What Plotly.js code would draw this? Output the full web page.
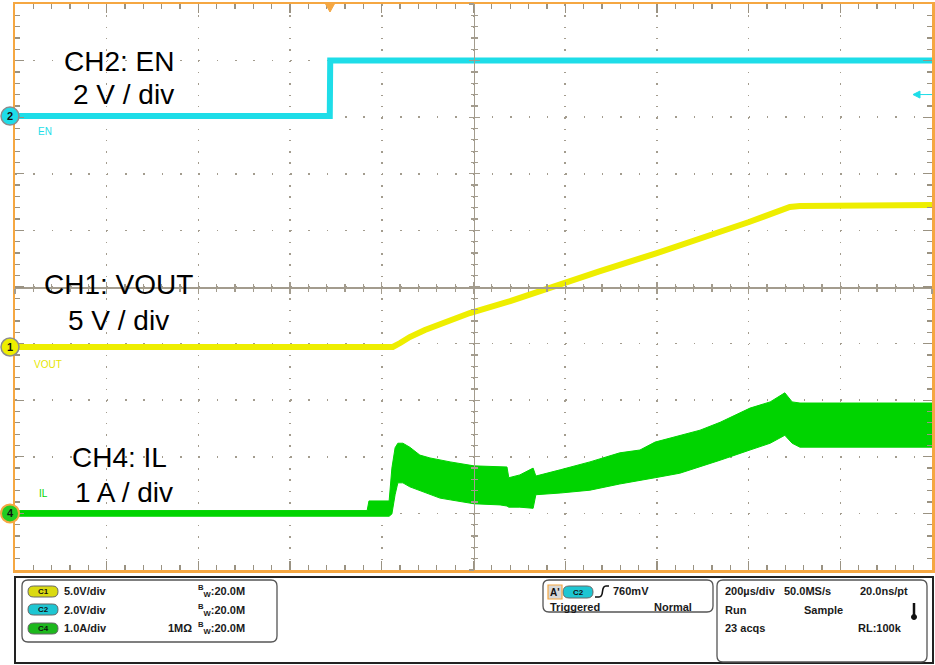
<!DOCTYPE html>
<html><head><meta charset="utf-8">
<script src="https://cdn.plot.ly/plotly-3.0.1.min.js"></script>
<style>html,body{margin:0;padding:0;background:#fff;}#chart{width:935px;height:665px;}</style>
</head><body><div id="chart"></div>
<script>
// ---- data (time in µs relative to trigger) ----
const enTime  = [-687, -0.5, 0.5, 1313];
const enVolts = [0, 0, 1.96, 1.96];

const voutTime  = [-687, 137, 153, 174, 207, 240, 305, 393, 458, 589, 713, 807, 914, 1003, 1025, 1313];
const voutVolts = [0, 0, 0.35, 0.88, 1.50, 2.03, 3.00, 4.06, 4.95, 6.71, 8.30, 9.54, 11.04, 12.37, 12.46, 12.54];

const ilTime  = [-687, 81, 85, 129, 135, 142, 148, 159, 174, 196, 218, 240, 262, 314, 371, 386, 390, 414, 443, 449, 502, 567, 632, 676, 709, 763, 807, 851, 916, 960, 992, 1008, 1025, 1313];
const ilUpper = [0.05, 0.05, 0.22, 0.22, 0.80, 1.16, 1.24, 1.24, 1.17, 1.03, 0.98, 0.94, 0.91, 0.84, 0.82, 0.82, 0.63, 0.68, 0.80, 0.66, 0.77, 0.91, 1.07, 1.12, 1.26, 1.38, 1.47, 1.61, 1.86, 1.97, 2.13, 1.97, 1.95, 1.95];
const ilLower = [-0.05, -0.05, -0.05, -0.05, -0.01, 0.33, 0.54, 0.54, 0.47, 0.40, 0.33, 0.27, 0.24, 0.17, 0.15, 0.13, 0.11, 0.11, 0.09, 0.33, 0.36, 0.41, 0.52, 0.59, 0.63, 0.71, 0.82, 0.94, 1.12, 1.24, 1.38, 1.24, 1.17, 1.17];

const triggerLevel = 0.76; // V on EN
const channelLabels = ["CH2: EN", "2 V / div", "CH1: VOUT", "5 V / div", "CH4: IL", "1 A / div"];

// ---- styling ----
const ORANGE = "#F5A742", GRID = "#A39C8E", TICK = "#9A9282";
const CYAN = "#1EDDE8", YELLOW = "#EEEE00", GREEN = "#00D400";
const T0 = -687, T1 = 1313, TDIV = 200;

function chRange(perDiv, offDiv){ return [-offDiv*perDiv, (10-offDiv)*perDiv]; }

function emptyOn(xa, ya){ return {x:[], y:[], xaxis:xa, yaxis:ya, mode:'lines', hoverinfo:'skip', showlegend:false}; }

const traces = [
  emptyOn('x','y'),
  emptyOn('x2','y'), emptyOn('x3','y'), emptyOn('x','y5'), emptyOn('x','y6'),
  {x: ilTime, y: ilLower, xaxis:'x', yaxis:'y4', mode:'lines', line:{color:GREEN, width:1}, hoverinfo:'skip'},
  {x: ilTime, y: ilUpper, xaxis:'x', yaxis:'y4', mode:'lines', line:{color:GREEN, width:1}, fill:'tonexty', fillcolor:GREEN, hoverinfo:'skip'},
  {x: voutTime, y: voutVolts, xaxis:'x', yaxis:'y2', mode:'lines', line:{color:YELLOW, width:6}, hoverinfo:'skip'},
  {x: enTime, y: enVolts, xaxis:'x', yaxis:'y3', mode:'lines', line:{color:CYAN, width:6}, hoverinfo:'skip'}
];

const xBase = {range:[T0,T1], showticklabels:false, zeroline:false, fixedrange:true, tick0:T0, dtick:TDIV};
const yBase = {range:[0,10], showticklabels:false, zeroline:false, fixedrange:true, tick0:0, dtick:1};

function crossAxis(base, dir, extra){
  return Object.assign({}, base, {showgrid:false, showline:true, linecolor:GRID, linewidth:1.5,
    ticks:dir, ticklen:5, tickwidth:1.3, tickcolor:GRID,
    minor:{ticks:dir, ticklen:3, tickwidth:1.3, tickcolor:GRID, dtick:base.dtick/5, tick0:base.tick0, showgrid:false}}, extra);
}

function rx(px){return px-15;}
function ry(py){return 4-py;}
function ax(px){return (px-15)/917;}
function ay(py){return (570-py)/566;}
function roundPath(x0,y0,x1,y1,r){
  const a=rx(x0), b=rx(x1), t=ry(y0), u=ry(y1);
  return `M${a+r},${t} L${b-r},${t} Q${b},${t} ${b},${t-r} L${b},${u+r} Q${b},${u} ${b-r},${u} L${a+r},${u} Q${a},${u} ${a},${u+r} L${a},${t-r} Q${a},${t} ${a+r},${t} Z`;
}
function pxShape(path, fill, lineColor, lineWidth){
  return {type:'path', xref:'paper', yref:'paper', xsizemode:'pixel', ysizemode:'pixel', xanchor:0, yanchor:1,
    path, fillcolor:fill, line:{color:lineColor, width:lineWidth}, layer:'above'};
}

const shapes = [];
function marker(yref, fill, edge, ew){
  shapes.push({type:'circle', xref:'paper', yref:yref, xsizemode:'pixel', ysizemode:'pixel', xanchor:0, yanchor:0,
    x0:-14, x1:4, y0:-9, y1:9, fillcolor:fill, line:{color:edge, width:ew}, layer:'above'});
}
marker('y3', CYAN, '#8C8C8C', 1.5);
marker('y2', YELLOW, '#8C8C8C', 1.5);
marker('y4', '#22CC22', ORANGE, 2);
shapes.push({type:'path', xref:'x', yref:'paper', xsizemode:'pixel', ysizemode:'pixel', xanchor:0, yanchor:1,
  path:'M-5,1 L5,1 L0,-8 Z', fillcolor:ORANGE, line:{color:ORANGE, width:1}, layer:'above'});
shapes.push({type:'path', xref:'paper', yref:'y3', xsizemode:'pixel', ysizemode:'pixel', xanchor:1, yanchor:triggerLevel,
  path:'M-19,0 L-12,3.5 L-12,-3.5 Z', fillcolor:CYAN, line:{color:CYAN, width:1}, layer:'above'});
shapes.push({type:'path', xref:'paper', yref:'y3', xsizemode:'pixel', ysizemode:'pixel', xanchor:1, yanchor:triggerLevel,
  path:'M-12,0 L0,0', line:{color:CYAN, width:1}, layer:'above'});

shapes.push(pxShape(`M${rx(15)},${ry(577)} L${rx(933)},${ry(577)} L${rx(933)},${ry(663)} L${rx(15)},${ry(663)} Z`, 'rgba(0,0,0,0)', '#222', 2));
shapes.push(pxShape(roundPath(22,580,277,642,6), 'rgba(0,0,0,0)', '#555', 1.3));
shapes.push(pxShape(roundPath(543,580,713,612,6), 'rgba(0,0,0,0)', '#555', 1.3));
shapes.push(pxShape(roundPath(717,580,927,662,6), 'rgba(0,0,0,0)', '#555', 1.3));
const pills = [[28,586,58,597,'#DADA10'],[28,604,58,615,'#1EC6D2'],[28,623,58,634,'#1DB81D'],[563,586,593,598,'#1EC6D2']];
pills.forEach(p=>shapes.push(pxShape(roundPath(p[0],p[1],p[2],p[3],(p[3]-p[1])/2), p[4], '#666', 1)));
shapes.push(pxShape(`M${rx(548)},${ry(585)} L${rx(562)},${ry(585)} L${rx(562)},${ry(599)} L${rx(548)},${ry(599)} Z`, '#D8D8D8', ORANGE, 1.2));
shapes.push(pxShape(`M${rx(595)},${ry(597)} L${rx(599)},${ry(597)} Q${rx(602)},${ry(597)} ${rx(602.5)},${ry(591.5)} Q${rx(603)},${ry(586)} ${rx(606)},${ry(586)} L${rx(609)},${ry(586)}`, 'rgba(0,0,0,0)', '#111', 1.6));
shapes.push(pxShape(`M${rx(914)},${ry(603)} L${rx(914)},${ry(616)}`, 'rgba(0,0,0,0)', '#111', 2.5));
shapes.push({type:'circle', xref:'paper', yref:'paper', xsizemode:'pixel', ysizemode:'pixel', xanchor:0, yanchor:1,
  x0:rx(911.5), x1:rx(916.5), y0:ry(614.5), y1:ry(619.5), fillcolor:'#111', line:{color:'#111', width:1}, layer:'above'});

const annotations = [];
function txt(text, px, py, anchor, size, color, family){
  annotations.push({text, x:ax(px), y:ay(py), xref:'paper', yref:'paper', xanchor:anchor, yanchor:'middle',
    showarrow:false, font:{size, color, family}});
}
const BIG = 'Liberation Sans, Arial, sans-serif';
txt(channelLabels[0], 118.5, 61, 'center', 28, '#000', BIG);
txt(channelLabels[1], 123.5, 94, 'center', 28, '#000', BIG);
txt(channelLabels[2], 118.5, 284, 'center', 28, '#000', BIG);
txt(channelLabels[3], 118.5, 320, 'center', 28, '#000', BIG);
txt(channelLabels[4], 119, 457.5, 'center', 28, '#000', BIG);
txt(channelLabels[5], 124, 492, 'center', 28, '#000', BIG);
const NARROW = 'Liberation Sans Narrow, Liberation Sans, Arial, sans-serif';
txt('EN', 36, 131, 'left', 10, CYAN, NARROW);
txt('VOUT', 32, 364, 'left', 10, '#E6E600', NARROW);
txt('IL', 37, 494, 'left', 10, GREEN, NARROW);
[['2','y3'],['1','y2'],['4','y4']].forEach(m=>annotations.push({text:'<b>'+m[0]+'</b>', xref:'paper', x:0, xshift:-5, xanchor:'center',
  yref:m[1], y:0, yanchor:'middle', showarrow:false, font:{size:11, color:'#111', family:BIG}}));
const SB = 'Liberation Sans, Arial, sans-serif', DK = '#1a1a1a';
txt('<b>5.0V/div</b>', 62, 591, 'left', 11, DK, SB);
txt('<b>2.0V/div</b>', 62, 610, 'left', 11, DK, SB);
txt('<b>1.0A/div</b>', 62, 628, 'left', 11, DK, SB);
[591,610,628].forEach(y=>txt('<b><sup>B</sup><sub>W</sub>:20.0M</b>', 247, y, 'right', 11, DK, SB));
txt('<b>1MΩ</b>', 194, 628, 'right', 11, DK, SB);
[[43,591.5,'C1'],[43,609.5,'C2'],[43,628.5,'C4'],[578,592,'C2']].forEach(p=>txt('<b>'+p[2]+'</b>', p[0], p[1], 'center', 8, '#111', SB));
txt("<b>A'</b>", 555, 592, 'center', 10, '#111', SB);
txt('<b>760mV</b>', 611, 591, 'left', 11, DK, SB);
txt('<b>Triggered</b>', 548, 607, 'left', 11, DK, SB);
txt('<b>Normal</b>', 694, 607, 'right', 11, DK, SB);
txt('<b>200µs/div</b>', 723, 591, 'left', 11, DK, SB);
txt('<b>50.0MS/s</b>', 782, 591, 'left', 11, DK, SB);
txt('<b>20.0ns/pt</b>', 910, 591, 'right', 11, DK, SB);
txt('<b>Run</b>', 723, 610, 'left', 11, DK, SB);
txt('<b>Sample</b>', 802, 610, 'left', 11, DK, SB);
txt('<b>23 acqs</b>', 723, 628, 'left', 11, DK, SB);
txt('<b>RL:100k</b>', 856, 628, 'left', 11, DK, SB);

const layout = {
  width:935, height:665, margin:{l:15, r:3, t:4, b:95, pad:0},
  paper_bgcolor:'#fff', plot_bgcolor:'#fff', showlegend:false,
  xaxis: Object.assign({}, xBase, {showgrid:true, gridcolor:GRID, gridwidth:1.5, griddash:'1.5px,9.82px',
    ticks:'inside', ticklen:9, tickwidth:1.3, tickcolor:TICK, showline:true, linecolor:ORANGE, linewidth:2.5, mirror:'ticks',
    minor:{ticks:'inside', ticklen:5, tickwidth:1.3, tickcolor:TICK, dtick:TDIV/5, tick0:T0, showgrid:false}}),
  yaxis: Object.assign({}, yBase, {showgrid:true, gridcolor:GRID, gridwidth:1.5, griddash:'1.5px,16.84px',
    ticks:'inside', ticklen:9, tickwidth:1.3, tickcolor:TICK, showline:true, linecolor:ORANGE, linewidth:2.5, mirror:'ticks',
    minor:{ticks:'inside', ticklen:5, tickwidth:1.3, tickcolor:TICK, dtick:0.2, tick0:0, showgrid:false}}),
  yaxis2: {overlaying:'y', range:chRange(5, 3.94), visible:false, fixedrange:true},
  yaxis3: {overlaying:'y', range:chRange(2, 8.02), visible:false, fixedrange:true},
  yaxis4: {overlaying:'y', range:chRange(1, 1.0), visible:false, fixedrange:true},
  xaxis2: crossAxis(xBase, 'inside', {overlaying:'x', anchor:'free', position:0.5}),
  xaxis3: crossAxis(xBase, 'outside', {overlaying:'x', anchor:'free', position:0.5}),
  yaxis5: crossAxis(yBase, 'inside', {overlaying:'y', anchor:'free', position:0.5}),
  yaxis6: crossAxis(yBase, 'outside', {overlaying:'y', anchor:'free', position:0.5}),
  shapes, annotations
};

Plotly.newPlot('chart', traces, layout, {staticPlot:true, displayModeBar:false});
</script></body></html>
